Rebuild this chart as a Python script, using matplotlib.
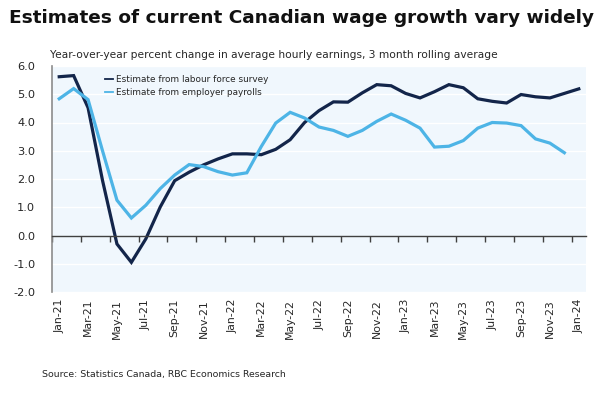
import matplotlib
matplotlib.use("Agg")
import matplotlib.pyplot as plt
import numpy as np

months = ["Jan-21","Feb-21","Mar-21","Apr-21","May-21","Jun-21","Jul-21","Aug-21","Sep-21","Oct-21","Nov-21","Dec-21",
          "Jan-22","Feb-22","Mar-22","Apr-22","May-22","Jun-22","Jul-22","Aug-22","Sep-22","Oct-22","Nov-22","Dec-22",
          "Jan-23","Feb-23","Mar-23","Apr-23","May-23","Jun-23","Jul-23","Aug-23","Sep-23","Oct-23","Nov-23","Dec-23",
          "Jan-24"]

lfs = [5.62, 5.66, 4.52, 1.95, -0.30, -0.95, -0.12, 1.01, 1.94, 2.24, 2.50, 2.71,
       2.89, 2.89, 2.86, 3.05, 3.39, 4.00, 4.42, 4.73, 4.72, 5.05, 5.34, 5.30,
       5.03, 4.87, 5.09, 5.34, 5.23, 4.84, 4.75, 4.69, 4.99, 4.91, 4.87, 5.03,
       5.19]

payrolls = [4.84, 5.20, 4.81, 3.00, 1.25, 0.62, 1.07, 1.66, 2.14, 2.51, 2.44, 2.26,
            2.14, 2.22, 3.15, 3.98, 4.36, 4.16, 3.84, 3.72, 3.51, 3.72, 4.04, 4.30,
            4.08, 3.80, 3.13, 3.16, 3.36, 3.80, 4.00, 3.98, 3.89, 3.42, 3.27, 2.93]

series_names = ["Estimate from labour force survey", "Estimate from employer payrolls"]
yticks = [-2.0, -1.0, 0.0, 1.0, 2.0, 3.0, 4.0, 5.0, 6.0]

navy = "#13254a"
sky = "#4db4e6"
txt = "#262626"

fig = plt.figure(figsize=(6.0, 3.96), dpi=100)
ax = fig.add_axes([52/600, 1-292/396, (586-52)/600, (292-66)/396])
ax.set_facecolor("#f0f7fd")

x_lfs = np.arange(len(lfs))
x_pay = np.arange(len(payrolls))
ax.plot(x_lfs, lfs, color=navy, lw=2.3, label=series_names[0], solid_joinstyle="miter")
ax.plot(x_pay, payrolls, color=sky, lw=2.3, label=series_names[1], solid_joinstyle="miter")

ax.set_xlim(-0.5, len(months) - 0.5)
ax.set_ylim(yticks[0], yticks[-1])
ax.set_yticks(yticks)
ax.set_yticklabels([f"{v:.1f}" for v in yticks], fontsize=8.2, color=txt)
ax.tick_params(axis="y", length=0, pad=12)
for v in yticks:
    if v != 0:
        ax.axhline(v, color="white", lw=1.0, zorder=0.5)

for s in ["top", "right"]:
    ax.spines[s].set_visible(False)
ax.spines["left"].set_color("#8c8c8c")
ax.spines["left"].set_linewidth(1.2)
ax.spines["bottom"].set_position(("data", 0))
ax.spines["bottom"].set_color("#404040")
ax.spines["bottom"].set_linewidth(1.0)
ax.set_xticks(np.arange(-0.5, len(months), 2))
ax.tick_params(axis="x", direction="out", length=4, width=1.0, color="#404040", labelbottom=False)

sec = ax.secondary_xaxis("bottom")
sec.set_xticks(np.arange(0, len(months), 2))
sec.set_xticklabels(months[::2], rotation=90, fontsize=7.8, color=txt)
sec.tick_params(length=0, pad=5)
sec.spines["bottom"].set_visible(False)

leg = ax.legend(loc="upper left", bbox_to_anchor=(0.092, 0.975), frameon=False, fontsize=6.4,
                handlelength=0.9, handletextpad=0.4, labelspacing=0.45, borderaxespad=0)
for t in leg.get_texts():
    t.set_color(txt)
for h in leg.get_lines():
    h.set_linewidth(1.3)

renderer = fig.canvas.get_renderer()

def fit_text(x, y, s, width_px, **kw):
    t = fig.text(x, y, s, **kw)
    w = t.get_window_extent(renderer=renderer).width
    t.set_fontsize(t.get_fontsize() * width_px / w)
    return t

fit_text(9/600, 1-18/396, "Estimates of current Canadian wage growth vary widely", 580,
         fontsize=13, fontweight="bold", color="#111111", va="center", ha="left")
fit_text(50/600, 1-55/396, "Year-over-year percent change in average hourly earnings, 3 month rolling average", 447,
         fontsize=8, color=txt, va="center", ha="left")
fit_text(42/600, 1-374/396, "Source: Statistics Canada, RBC Economics Research", 246,
         fontsize=7, color=txt, va="center", ha="left")

fig.savefig("out.png", dpi=100, facecolor="white")
